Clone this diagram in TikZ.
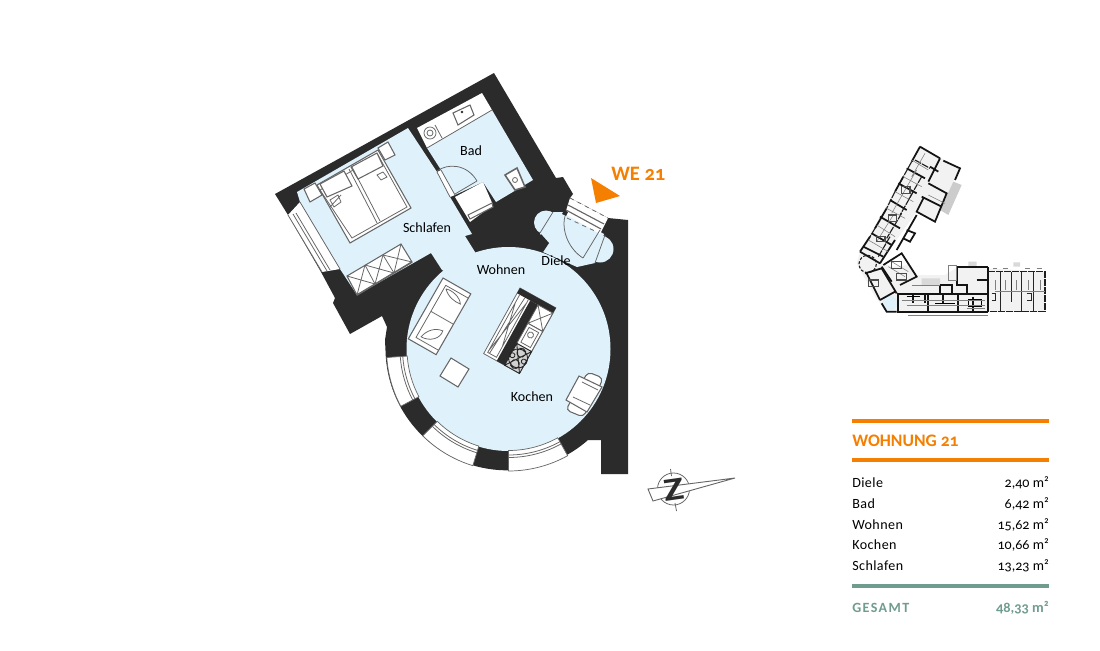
\documentclass[tikz,border=0pt]{standalone}
\usepackage{fontspec}
\usetikzlibrary{calc}
\setmainfont[Numbers=OldStyle]{Carlito}
\definecolor{wall}{HTML}{2B2B2B}
\definecolor{room}{HTML}{DFF2FB}
\definecolor{accent}{HTML}{F57F00}
\definecolor{teal}{HTML}{6F9C8F}
\definecolor{fix}{HTML}{666666}
\tikzset{
  fixture/.style={draw=fix,line width=.75pt,fill=white},
  fine/.style={draw=fix,line width=.55pt},
  label/.style={font=\fontsize{10}{12}\selectfont,text=black,inner sep=0pt},
  rowname/.style={font=\fontsize{10}{12}\selectfont\addfontfeature{LetterSpace=3},text=black,anchor=west,inner sep=0pt},
  rowval/.style={font=\fontsize{10}{12}\selectfont,text=black,anchor=east,inner sep=0pt},
  rule/.style={line width=2.9pt},
  plan/.style={line width=.8pt,draw=black!88,dash pattern=on 5pt off .7pt},
  planbold/.style={line width=1.25pt,draw=black!92},
  planthin/.style={line width=.4pt,draw=black!50}
}
\begin{document}
\begin{tikzpicture}[x=.025cm,y=-.025cm]
\useasboundingbox (0,0) rectangle (1100,651);
\fill[white] (0,0) rectangle (1100,651);
% ---- walls
\fill[wall] (275,194) -- (494,73) -- (556,178) -- (563,177) -- (573,194) -- (570,198) -- (608,218) -- (628,220) -- (628,474) -- (601,474) -- (601,440) -- (588,440)
  arc[start angle=48.7,end angle=176,radius=122] -- (385,340) -- (387,327) -- (382,316) -- (350,334) -- (333,303) -- (335,298) -- (321,272) -- (288,215) -- cycle;
% ---- rooms
\fill[room] (297,192) -- (408,128) -- (437,172) -- (450,197) -- (472,234) -- (465,236) -- (475,252) -- (508,300) -- (442,270) -- (431,253) -- (357,295) -- (340,269) -- (300,202) -- cycle;
\fill[room] (508.5,349) circle[radius=102];
\fill[room] (553,212) -- (566,212) -- (604,234) -- (595,263) -- (577,267) -- (543,252) -- (540,233) -- cycle;
\fill[room] (546,222.5) circle[radius=12];
\fill[room] (600,249) circle[radius=13.5];
\fill[wall] (543,252) -- (549,243) -- (541,234) -- (532,246) -- cycle;
\fill[room] (427,148) -- (492,110) -- (533,180) -- (496,202) -- (483,182) -- (455,195) -- (441,170) -- cycle;
% ---- left bedroom window
\fill[white] (288,215) -- (322,272) -- (340,269) -- (300,202) -- cycle;
\draw[fine] (288,215) -- (322,272) (293,214) -- (327,271) (296,213) -- (330,270) (300,202) -- (340,269);
% ---- circular windows
\foreach \a/\b in {176/152,134.6/107,90/61}{
  \fill[white,draw=fix,line width=.5pt] (508.5,349) ++(\a:122) arc[start angle=\a,end angle=\b,radius=122] -- ($(508.5,349)+(\b:101.5)$) arc[start angle=\b,end angle=\a,radius=101.5] -- cycle;
  \draw[fine] (508.5,349) ++(\a:106) arc[start angle=\a,end angle=\b,radius=106];
  \draw[fine] (508.5,349) ++(\a:108.5) arc[start angle=\a,end angle=\b,radius=108.5];
}
% ---- bedroom furniture
\draw[fixture] (304,189) -- (315,183) -- (322,195) -- (310,202) -- cycle;
\draw[fixture] (378,148) -- (388,142) -- (395,155) -- (385,160) -- cycle;
\draw[fixture] (317,185) -- (378,150) -- (411,208) -- (350,243) -- cycle;
\draw[fine] (320,190) -- (378,155) -- (407,207) -- (352,238) -- cycle;
\draw[fixture] (320,184) -- (344,171) -- (352,186) -- (327,197) -- cycle;
\draw[fixture] (351,167) -- (377,153) -- (383,166) -- (358,179) -- cycle;
\draw[fine] (349,169) -- (377,223) (352,167) -- (380,221);
\draw[fine] (330,200) -- (338,195) -- (341,202) -- (334,207) -- cycle (330,207) -- (341,195);
\draw[fine] (377,175) -- (383,172) -- (387,177) -- (381,180) -- cycle;
% wardrobe
\draw[fixture] (347,276) -- (401,244) -- (412,262) -- (357,295) -- cycle;
\draw[fine] (365,265) -- (375,284) (383,255) -- (394,273);
\draw[fine] (347,276) -- (375,284) (365,265) -- (357,295) (365,265) -- (394,273) (383,255) -- (375,284) (383,255) -- (412,262) (401,244) -- (394,273);
\draw[draw=fix,line width=1.1pt] (357,295) -- (412,262);
% ---- bath
\fill[white] (417,128) -- (482,93) -- (492,110) -- (427,148) -- cycle;
\draw[fine] (427,148) -- (492,110) (435,125) -- (442,138);
\draw[fine] (430,133) circle[radius=6] (430,133) circle[radius=3];
\draw[fixture] (453,113) -- (470,105) -- (474,115) -- (458,125) -- cycle;
\fill[wall] (462,112) circle[radius=1.4];
\draw[draw=fix,line width=1.1pt,fill=white] (505,175) -- (517,168) -- (525,187) -- (515,190) -- cycle;
\draw[fine] (515,180) circle[radius=2.5];
\fill[white] (455,197) -- (483,182) -- (493,205) -- (470,222) -- cycle;
\draw[fixture] (468,215) -- (492,203) -- (493,207) -- (470,219) -- cycle;
% bath door
\fill[white] (437,172) -- (450,197) -- (455,195) -- (441,170) -- cycle;
\draw[fine] (437,172) -- (450,197) (441,170) -- (455,195) (455,194) -- (477,181);
\draw[fine] (437,171) .. controls (448,163) and (467,164) .. (477,181);
% ---- entrance door
\fill[white] (570,198) -- (608,218) -- (600,234) -- (565,214) -- cycle;
\draw[fine,dashed] (570,198) -- (608,218);
\draw[fine,line width=.8pt] (568,205) -- (604,224) (566,210) -- (601,229);
\draw[fine,dashed] (567,218) -- (597,232);
\fill[wall] (564,210) -- (568,212) -- (566,216) -- (562,214) -- cycle;
\draw[fine] (583,258) -- (600,230) (565,216) .. controls (561,232) and (570,250) .. (583,258);
\draw[fine] (553,212) -- (540,233) (605,235) -- (595,263);
% ---- sofa, table
\begin{scope}[shift={(443,278)},rotate=-29.7]
  \draw[fixture] (0,0) rectangle (32,70);
  \draw[fine] (6,5) -- (32,5) (6,5) -- (6,65) -- (32,65) (6,35) -- (32,35);
  \draw[fine] (8,8) .. controls (14,14) and (22,15) .. (28,14) .. controls (24,8) and (14,6) .. (8,8);
  \draw[fine] (10,62) .. controls (12,53) and (18,47) .. (26,46) .. controls (28,54) and (20,62) .. (10,62);
\end{scope}
\draw[fixture] (451,358) -- (469,369) -- (458,387) -- (440,376) -- cycle;
% ---- kitchen island
\begin{scope}[shift={(520,288)},rotate=-29]
  \fill[white,draw=fix,line width=.55pt] (0,0) rectangle (41,75);
  \fill[wall] (0,0) rectangle (41,6);
  \fill[wall] (15,6) rectangle (24,75);
  \draw[fine] (3,6) -- (3,72) -- (13,72) -- (13,6) (3,70) -- (13,10) (5,72) -- (9,6) (13,60) -- (3,15);
  \draw[fine] (24,6) rectangle (41,27) (24,6) -- (41,27) (41,6) -- (24,27);
  \draw[fine] (24,27) rectangle (41,50) (27,30) rectangle (38,47);
  \draw[fine] (32,36) circle[radius=3];
  \fill[black!18] (24,50) rectangle (41,75);
  \draw[line width=.6pt,draw=black!85] (24,50) rectangle (41,75) (32.5,62.5) circle[radius=9.5] (32.5,56) circle[radius=4.5] (32.5,69) circle[radius=4.5] (26,62.5) circle[radius=2.5] (39,62.5) circle[radius=2.5] (24,50) -- (41,75) (41,50) -- (24,75);
\end{scope}
% ---- dining
\draw[fixture,rounded corners=3pt] (588,372) -- (603,378) -- (598,390) -- (582,382) -- cycle;
\draw[fixture,rounded corners=3pt] (573,397) -- (590,405) -- (583,417) -- (566,410) -- cycle;
\draw[fixture] (579,376) -- (602,387) -- (587,412) -- (566,400) -- cycle;
\draw[fine] (582,382) -- (598,390) (573,397) -- (590,405);
% ---- labels
\node[label] (lbad) at (471,150.5) {Bad};
\node[label] (lschlafen) at (427,228) {Schlafen};
\node[label] (lwohnen) at (501,270) {Wohnen};
\node[label] (ldiele) at (556,260.5) {Diele};
\node[label] (lkochen) at (532,396.5) {Kochen};
% ---- WE 21
\fill[accent] (591,178) -- (620,196) -- (596,203) -- cycle;
\node[anchor=west,inner sep=0pt,text=accent,font=\fontsize{14.6}{16}\selectfont\bfseries] (we) at (611,173.5) {WE 21};
% ---- north sign
\draw[fine] (673.5,489) circle[radius=16] (670.5,469) -- (671.5,476) (675,503) -- (676.5,511);
\draw[fixture,line width=.65pt] (648,489) -- (735,478) -- (653,501) -- cycle;
\node[rotate=8,xscale=1.3,inner sep=0pt,text=wall,font=\fontsize{23}{23}\selectfont\bfseries] (north) at (674,489.5) {Z};
% ---- site plan
\begin{scope}[shift={(845,140)},x=.025cm/3,y=-.025cm/3]
  \fill[black!5] (225,20) -- (345,85) -- (265,245) -- (215,215) -- (105,370) -- (145,380) -- (195,375) -- (215,405) -- (300,405) -- (340,380) -- (600,395) -- (600,515) -- (155,515) -- (125,515) -- (90,470) -- (35,370) -- (45,335) -- cycle;
  \fill[black!20] (325,125) -- (350,135) -- (310,225) -- (285,210) -- cycle;
  \fill[black!15] (230,415) rectangle (285,435) (370,365) rectangle (395,380) (505,367) rectangle (525,380);
  \fill[room] (135,490) circle[radius=22];
  % upper wing
  \draw[planbold] (225,20) -- (285,55) (295,62) -- (345,85) -- (330,120) (225,20) -- (200,65) (175,110) -- (150,155) (125,205) -- (90,265) (75,290) -- (45,335);
  \draw[plan] (200,65) -- (175,110) (150,155) -- (125,205) (90,265) -- (75,290);
  \draw[planbold] (285,55) -- (250,125) (250,130) -- (305,160) -- (270,245) -- (215,215) -- (235,175) (230,170) -- (290,200) (255,80) -- (280,95);
  \draw[planbold] (215,225) -- (175,295) -- (195,305) -- (210,280) -- (185,270) (175,295) -- (155,330) (105,370) -- (150,300);
  \draw[planbold] (185,85) -- (240,115) (160,130) -- (215,160) (135,180) -- (185,210) (105,230) -- (165,265) (80,280) -- (140,315) (55,320) -- (115,350);
  \draw[plan] (210,60) -- (255,85) (230,110) -- (190,180) (205,155) -- (165,225) (170,220) -- (125,295) (135,290) -- (100,350);
  \draw[planthin] (200,60) -- (250,90) (175,110) -- (230,140) (150,155) -- (205,185) (125,205) -- (180,235) (95,255) -- (150,290) (70,300) -- (130,335) (250,165) -- (300,190) (140,365) -- (190,395) (130,380) -- (180,410) (240,40) -- (200,110) (215,90) -- (180,150) (180,150) -- (140,220) (145,225) -- (95,305);
  \draw[black!70,line width=.8pt] (170,140) rectangle (195,160) (130,225) rectangle (155,245) (95,290) rectangle (120,305);
  % joint
  \draw[planbold] (45,335) -- (105,370) (115,375) -- (170,340) -- (215,410) -- (165,435) (110,380) -- (140,425);
  \draw[plan,dash pattern=on 2pt off 1.2pt] (68,372) circle[radius=26];
  \draw[planbold] (60,400) -- (110,385) -- (155,460) (65,400) -- (105,480);
  \draw[planbold] (105,480) -- (150,455) (110,490) -- (125,515) -- (155,515);
  \draw[black!70,line width=.8pt] (140,365) rectangle (170,385) (155,400) rectangle (185,420) (70,420) rectangle (100,440);
  % lower wing west
  \draw[planbold] (155,462) -- (430,462) (155,515) -- (430,515) (160,462) -- (160,515) (205,462) -- (205,490) (250,462) -- (250,515) (240,462) -- (240,490) (295,462) -- (295,490) (340,462) -- (340,515) (385,470) -- (385,515) (430,382) -- (430,515);
  \draw[planbold] (285,435) -- (320,435) -- (320,462) (285,435) -- (285,462) (335,380) -- (430,380) (335,380) -- (335,435) -- (365,435) -- (365,462) (395,420) -- (430,420);
  \draw[line width=.9pt,black] (370,480) rectangle (410,500) (185,470) -- (225,470) (270,490) -- (330,490);
  % lower wing east
  \draw[plan] (430,395) -- (600,395) -- (600,515) -- (430,515);
  \draw[line width=.7pt,black!85] (465,395) -- (465,515) (500,395) -- (500,485) (530,395) -- (530,515) (565,395) -- (565,515);
  \draw[line width=.7pt,black!85] (440,460) -- (450,460) -- (450,480) -- (440,480) (545,460) -- (560,460) -- (560,480) -- (545,480);
  \draw[planthin] (310,375) -- (335,375) -- (335,420) -- (310,420) -- cycle (200,435) -- (285,435) (450,455) -- (600,455) (170,480) -- (420,480) (365,505) -- (420,505) (185,495) -- (420,495) (190,525) -- (430,525) (480,420) -- (480,450) (450,420) -- (450,450) (515,420) -- (515,450) (550,420) -- (550,450) (585,420) -- (585,450) (445,385) -- (455,385) (475,385) -- (490,385) (540,385) -- (555,385) (575,385) -- (590,385);
\end{scope}
% ---- table
\draw[accent,rule] (852,421) -- (1049,421);
\node[anchor=west,inner sep=0pt,text=accent,font=\fontsize{12.5}{15}\selectfont\bfseries] (title) at (852,441) {WOHNUNG 21};
\draw[accent,rule] (852,460) -- (1049,460);
\node[rowname] (n1) at (852,483) {Diele};
\node[rowval] (v1) at (1049,483) {2,40 m²};
\node[rowname] (n2) at (852,504) {Bad};
\node[rowval] (v2) at (1049,504) {6,42 m²};
\node[rowname] (n3) at (852,524.5) {Wohnen};
\node[rowval] (v3) at (1049,524.5) {15,62 m²};
\node[rowname] (n4) at (852,545) {Kochen};
\node[rowval] (v4) at (1049,545) {10,66 m²};
\node[rowname] (n5) at (852,566) {Schlafen};
\node[rowval] (v5) at (1049,566) {13,23 m²};
\draw[teal,rule] (852,586) -- (1049,586);
\node[anchor=west,inner sep=0pt,text=teal,font=\fontsize{10}{12}\selectfont\bfseries\addfontfeature{LetterSpace=10}] (n6) at (852,608) {GESAMT};
\node[anchor=east,inner sep=0pt,text=teal,font=\fontsize{10.2}{12}\selectfont\bfseries] (v6) at (1049,608) {48,33 m²};
\end{tikzpicture}
\end{document}
